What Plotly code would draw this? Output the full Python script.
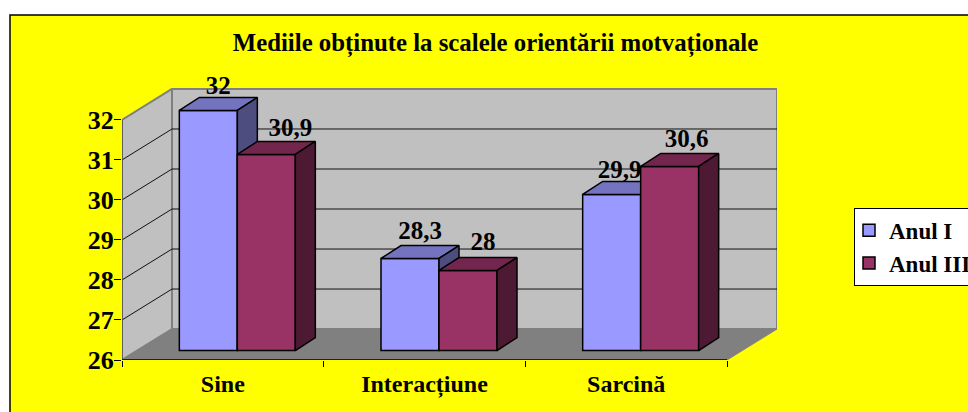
import plotly.graph_objects as go

categories = ["Sine", "Interacțiune", "Sarcină"]
anul_i = [32, 28.3, 29.9]
anul_iii = [30.9, 28, 30.6]
y_ticks = [26, 27, 28, 29, 30, 31, 32]
title = "Mediile obținute la scalele orientării motvaționale"

W, H = 968, 412
L, R, T, B = 122, 777, 60, 360.5       # plot box in page pixels
UX = 201.67                            # px per category
UY = 40.08                             # px per unit
FONT = "Liberation Serif"
wall, floor, edge = "#C0C0C0", "#808080", "#808080"

x_span = (R - L) / UX
y_span = (B - T) / UY
wx, wy = 50 / UX, 31 / UY              # box depth
sx, sy = 14.5 / UX, 9.5 / UY           # bar plane shift
dx, dy = 20 / UX, 13 / UY              # bar depth
w = 58 / UX                            # bar width

fig = go.Figure()

bar_axes = dict(range=[-0.5 - sx, -0.5 - sx + x_span], domain=[0, 1], visible=False, fixedrange=True)
bar_yaxes = dict(range=[26 - sy, 26 - sy + y_span], domain=[0, 1], visible=False, fixedrange=True)


def poly(xs, ys, color, xa, ya, line="black", lw=1.5):
    fig.add_trace(go.Scatter(x=xs + xs[:1], y=ys + ys[:1], mode="lines", fill="toself",
                             fillcolor=color, line=dict(color=line, width=lw),
                             xaxis=xa, yaxis=ya, showlegend=False, hoverinfo="skip"))


xmax = 3
ymax = 32
poly([0, wx, wx, 0], [26, 26 + wy, ymax + wy, ymax], wall, "x", "y", edge, 2)
poly([wx, xmax + wx, xmax + wx, wx], [26 + wy, 26 + wy, ymax + wy, ymax + wy], wall, "x", "y", edge, 2)
poly([0, xmax, xmax + wx, wx], [26, 26, 26 + wy, 26 + wy], floor, "x", "y", floor, 1)
for t in y_ticks[1:-1]:
    fig.add_trace(go.Scatter(x=[0, wx, xmax + wx], y=[t, t + wy, t + wy], mode="lines",
                             line=dict(color="#111111", width=1), showlegend=False, hoverinfo="skip"))
fig.add_trace(go.Scatter(x=[0, 0], y=[26, 32], mode="lines", line=dict(color="#555555", width=1.5),
                         showlegend=False, hoverinfo="skip"))
fig.add_trace(go.Scatter(x=[0, 3], y=[26, 26], mode="lines", line=dict(color="black", width=1.5),
                         showlegend=False, hoverinfo="skip"))


def series(name, vals, off, col, top, side, xa, ya):
    fig.add_trace(go.Bar(x=list(range(3)), y=[v - 26 for v in vals], base=26, width=w, offset=off, name=name,
                         marker=dict(color=col, line=dict(color="black", width=1.5)),
                         xaxis=xa, yaxis=ya, hoverinfo="skip"))
    for i, v in enumerate(vals):
        a, b = i + off, i + off + w
        poly([a, b, b + dx, a + dx], [v, v, v + dy, v + dy], top, xa, ya)
        poly([b, b + dx, b + dx, b], [26, 26 + dy, v + dy, v], side, xa, ya)


series("Anul I", anul_i, -w, "#9999FF", "#7373BF", "#4D4D80", "x2", "y2")
series("Anul III", anul_iii, 0, "#993366", "#73264D", "#4D1933", "x3", "y3")

lab_dx_i = [10, 10, 8]
lab_dy_i = [23, 26, 23]
lab_dx_iii = [24, 15, 17]
lab_dy_iii = [25, 27, 26]
for vals, off, ldx, ldy in ((anul_i, -w / 2, lab_dx_i, lab_dy_i), (anul_iii, w / 2, lab_dx_iii, lab_dy_iii)):
    fig.add_trace(go.Scatter(
        x=[i + off + ldx[i] / UX for i in range(3)],
        y=[v + ldy[i] / UY for i, v in enumerate(vals)],
        mode="text", text=[str(v).replace(".", ",") for v in vals],
        textposition="middle center",
        textfont=dict(family=FONT, size=25, color="black", weight="bold"),
        xaxis="x3", yaxis="y3", showlegend=False, hoverinfo="skip", cliponaxis=False))

fig.update_layout(
    width=W, height=H, autosize=False,
    margin=dict(l=L, r=W - R, t=T, b=H - B, autoexpand=False),
    paper_bgcolor="white", plot_bgcolor="rgba(0,0,0,0)",
    font=dict(family=FONT, color="black"),
    barmode="overlay",
    title=dict(text=f"<b>{title}</b>", x=495.5 / W, xanchor="center", y=1 - 42 / H, yanchor="middle",
               xref="container", yref="container", font=dict(family=FONT, size=24.8, color="black")),
    xaxis=dict(range=[0, x_span], domain=[0, 1], tickmode="array", tickvals=[0.5, 1.5, 2.5],
               ticktext=[f"<b>{c}</b>" for c in categories], ticks="", showgrid=False, zeroline=False,
               showline=False, tickfont=dict(family=FONT, size=24, color="black"),
               ticklabelstandoff=7, fixedrange=True,
               minor=dict(tick0=0, dtick=1, ticks="outside", ticklen=6, tickcolor="black", tickwidth=1, showgrid=False)),
    yaxis=dict(range=[26, 26 + y_span], domain=[0, 1], tickmode="array", tickvals=y_ticks,
               ticktext=[f"<b>{t}</b>" for t in y_ticks], ticks="outside", ticklen=7, tickwidth=1,
               tickcolor="black", showgrid=False, zeroline=False, showline=False,
               tickfont=dict(family=FONT, size=26, color="black"), fixedrange=True, ticklabelstandoff=-5),
    xaxis2=dict(overlaying="x", **bar_axes), yaxis2=dict(overlaying="y", **bar_yaxes),
    xaxis3=dict(overlaying="x", **bar_axes), yaxis3=dict(overlaying="y", **bar_yaxes),
    legend=dict(x=(854 - L) / (R - L), xanchor="left", y=(B - 208) / (B - T), yanchor="top",
                bgcolor="white", bordercolor="black", borderwidth=1, traceorder="normal",
                font=dict(family=FONT, size=23, color="black", weight="bold"), indentation=-6),
    shapes=[dict(type="rect", xref="paper", yref="paper", layer="below",
                 x0=(10 - L) / (R - L), x1=(W + 20 - L) / (R - L),
                 y0=(B - H - 20) / (B - T), y1=(B - 15) / (B - T),
                 fillcolor="#FFFF00", line=dict(color="black", width=1.5))],
)
fig.write_html("out.html", config={"displayModeBar": False},
               post_script="document.body.style.margin='0';document.body.style.overflow='hidden';")
